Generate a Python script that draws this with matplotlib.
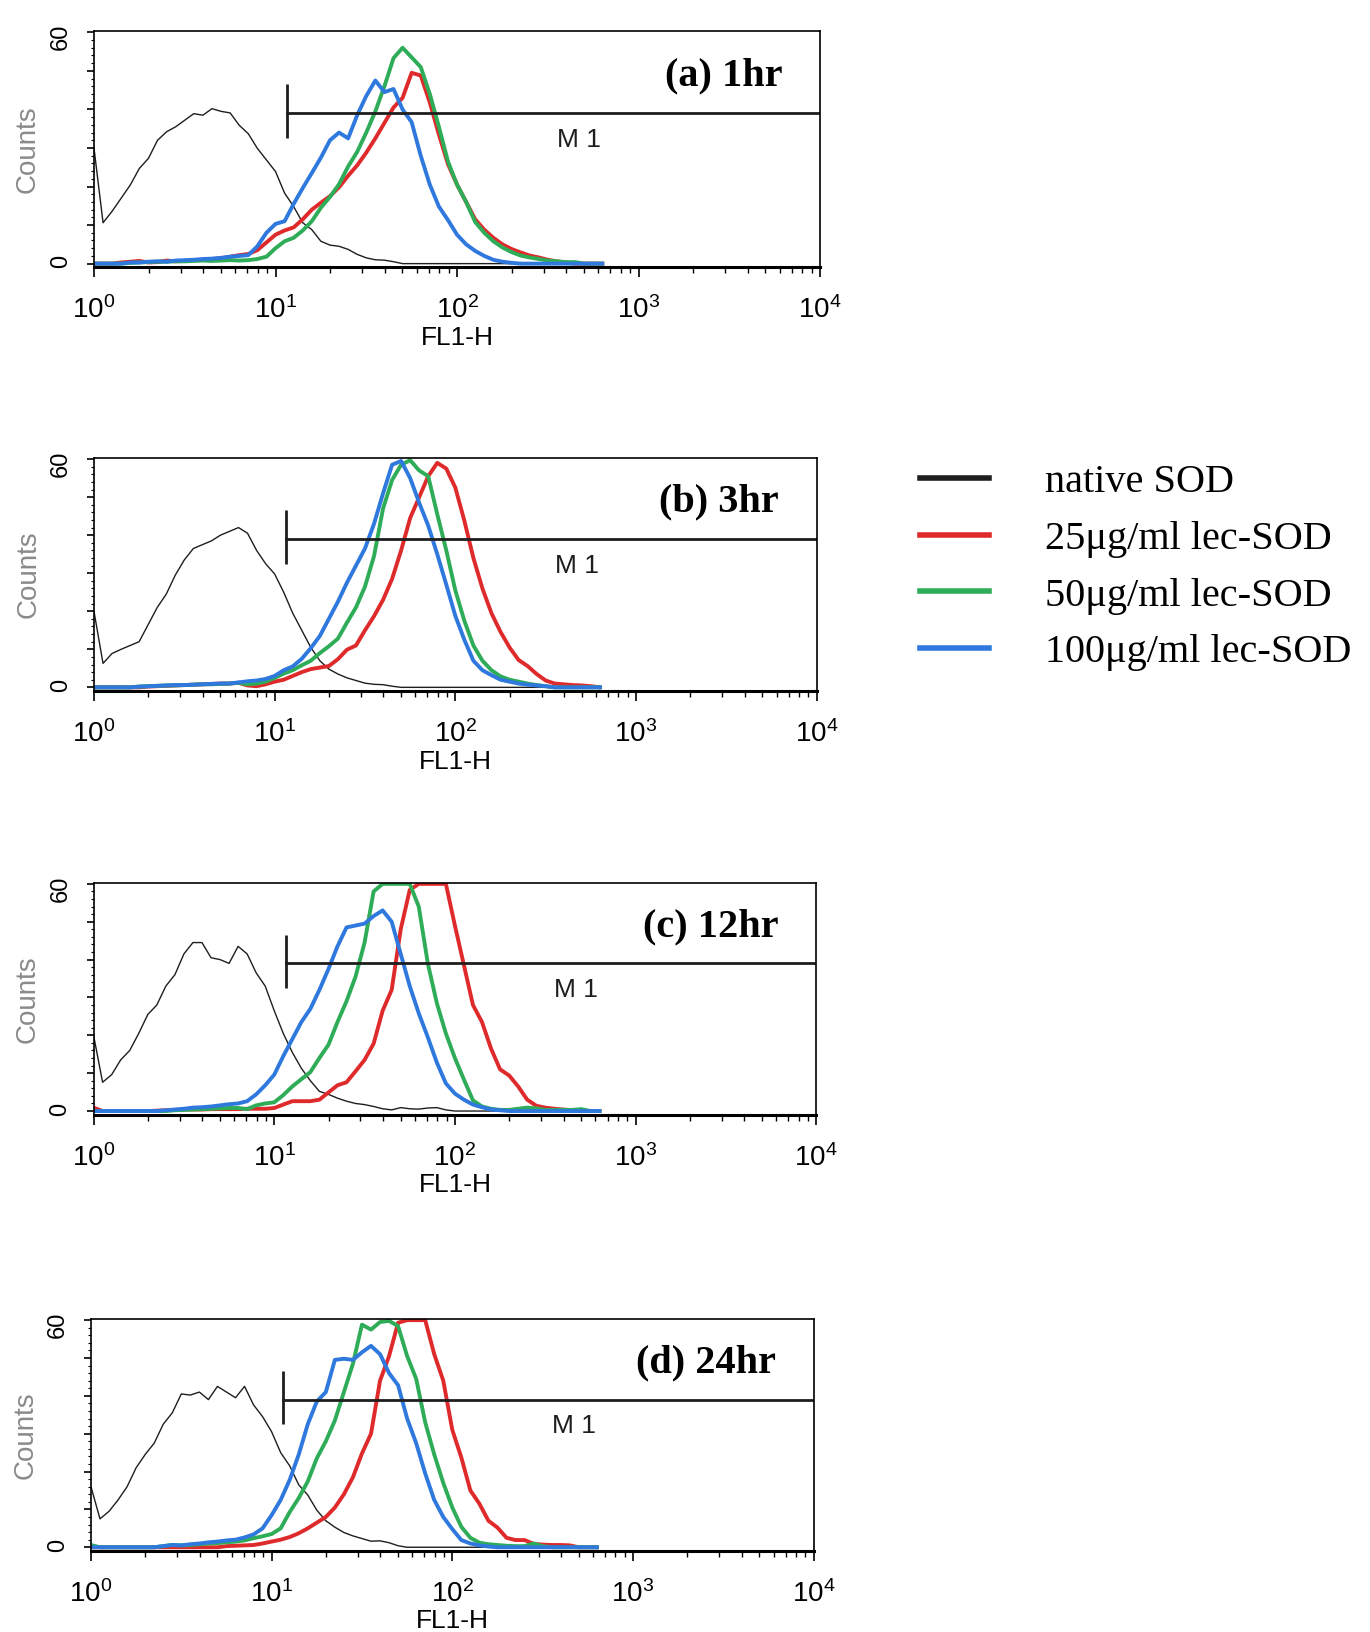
import numpy as np
import matplotlib
matplotlib.use('Agg')
import matplotlib.pyplot as plt
from matplotlib.lines import Line2D
from matplotlib.ticker import LogLocator, MultipleLocator, NullFormatter, FuncFormatter

SANS = ['Liberation Sans', 'DejaVu Sans']
SERIF = ['Liberation Serif', 'DejaVu Serif']
plt.rcParams['font.family'] = SANS
plt.rcParams['mathtext.default'] = 'regular'

# FL1-H channels, log10 position every 0.05 decade (10^0 .. 10^2.8)
fl1_log = np.round(np.arange(57) * 0.05, 2)
fl1 = 10 ** fl1_log

# ---- (a) 1hr ----
native_a = [30, 10.6, 13.6, 17, 20.4, 24.7, 27.3, 32, 34.2, 35.5,
            37.2, 38.9, 38.5, 40.2, 39.5, 39.1, 35.9, 33.7, 29.9, 26.9,
            23.9, 18.3, 14.8, 10.6, 8.8, 5.8, 4.8, 4.5, 3.7, 2.4,
            1.5, 1.0, 0.9, 0.5, 0, 0, 0, 0, 0, 0,
            0, 0, 0, 0, 0, 0, 0, 0, 0, 0,
            0, 0, 0, 0, 0, 0, 0]
lec25_a = [0, 0, 0, 0.3, 0.5, 0.7, 0.3, 0.4, 0.8, 0.6,
           0.7, 0.9, 1.0, 1.2, 1.4, 1.8, 2.2, 2.5, 3.5, 5.5,
           7.5, 8.6, 9.4, 11.5, 14, 15.8, 17.5, 19.8, 22.8, 25.5,
           28.8, 32.5, 36.5, 40.5, 43, 49.5, 48.8, 41.8, 33.5, 25.8,
           20.5, 16, 11.5, 8.8, 6.7, 5.0, 3.8, 2.9, 2.1, 1.6,
           1.0, 0.6, 0.3, 0, 0, 0, 0]
lec50_a = [0, 0, 0, 0, 0.2, 0.3, 0.4, 0.5, 0.5, 0.6,
           0.6, 0.7, 0.8, 0.7, 0.8, 0.9, 0.8, 0.9, 1.2, 1.8,
           4, 5.8, 6.7, 8.6, 11, 14.5, 17.3, 20.6, 25.2, 29,
           34, 39.5, 46, 53.3, 56, 53.5, 51, 44, 35.5, 26.5,
           20.5, 16, 10.8, 8, 5.8, 4.2, 3.0, 2.1, 1.6, 1.2,
           0.8, 0.6, 0.4, 0.4, 0, 0, 0]
lec100_a = [0, 0, 0, 0, 0.3, 0.3, 0.5, 0.6, 0.5, 0.8,
            0.9, 1.0, 1.2, 1.3, 1.5, 1.8, 2.0, 2.2, 4.5, 8.0,
            10.3, 11, 15.5, 19.6, 23.5, 27.5, 32, 34, 32.5, 38.5,
            43.5, 47.5, 44.5, 45.3, 40, 36.7, 28, 20.5, 14.8, 11.3,
            7.5, 5.0, 3.3, 2.0, 1.0, 0.5, 0.2, 0, 0, 0,
            0, 0, 0, 0, 0, 0, 0]

# ---- (b) 3hr ----
native_b = [20, 6.3, 8.9, 10, 11, 12, 16.5, 21, 24.5, 29.5,
            33.5, 36.5, 37.5, 38.5, 40, 41, 42, 40.5, 36, 32.5,
            29.8, 25, 19.5, 15, 10.5, 7, 4.8, 3.5, 2.5, 1.8,
            1.1, 0.8, 0.7, 0.3, 0, 0, 0, 0, 0, 0,
            0, 0, 0, 0, 0, 0, 0, 0, 0, 0,
            0, 0, 0, 0, 0, 0, 0]
lec25_b = [0, 0, 0, 0, 0, 0, 0.2, 0.3, 0.4, 0.5,
           0.6, 0.7, 0.8, 0.9, 1.0, 1.0, 1.2, 0.5, 0.3, 0.8,
           1.5, 2.0, 3.0, 4.0, 4.8, 5.2, 5.6, 7.4, 9.9, 11,
           15, 18.7, 23, 28.5, 36, 44.5, 50, 55.5, 59, 57.5,
           52.5, 43.8, 34, 26, 19.5, 14.6, 10.5, 7.2, 5.6, 3.5,
           1.8, 1.0, 0.8, 0.6, 0.5, 0.3, 0]
lec50_b = [0, 0, 0, 0, 0, 0.2, 0.3, 0.4, 0.5, 0.5,
           0.6, 0.7, 0.8, 0.8, 0.9, 1.0, 1.2, 0.8, 1.0, 1.5,
           2.5, 3.6, 4.5, 5.8, 7.0, 9.0, 10.8, 12.8, 17, 21,
           26.5, 34.5, 47, 54.5, 58.5, 59.7, 57, 55.5, 45.5, 36,
           25.5, 17.5, 11, 7.0, 4.5, 2.9, 2.0, 1.5, 1.0, 0.6,
           0.3, 0, 0, 0, 0, 0, 0]
lec100_b = [0, 0, 0, 0, 0, 0.2, 0.3, 0.4, 0.5, 0.6,
            0.6, 0.7, 0.8, 0.9, 1.0, 1.0, 1.3, 1.6, 1.8, 2.2,
            3.0, 4.5, 5.5, 7.5, 10.3, 13.5, 18, 22.5, 27.5, 32,
            36.5, 43, 51, 58.5, 59.5, 55, 48.5, 42.5, 35, 27,
            18.8, 12.5, 7, 4.5, 3.2, 2.0, 1.5, 1.0, 0.7, 0.5,
            0.3, 0, 0, 0, 0, 0, 0]

# ---- (c) 12hr ----
native_c = [20, 7.6, 9.6, 13.5, 16, 20.5, 25.5, 28, 33, 36,
            41.5, 44.5, 44.5, 40.5, 40, 39, 43.5, 41.5, 36.5, 33,
            26.5, 20.5, 15.5, 11.3, 8.0, 5.2, 4.4, 3.4, 2.6, 2.0,
            1.7, 1.2, 0.6, 0.3, 0.9, 0.6, 0.5, 0.8, 0.9, 0.3,
            0, 0, 0, 0, 0, 0, 0, 0, 0, 0,
            0, 0, 0, 0, 0, 0, 0]
lec25_c = [0.9, 0, 0, 0, 0, 0, 0, 0.1, 0.2, 0.3,
           0.4, 0.4, 0.4, 0.5, 0.5, 0.5, 0.5, 0.6, 0.6, 0.6,
           0.8, 1.7, 2.6, 2.6, 2.6, 3.0, 4.9, 6.8, 7.6, 10.5,
           13.5, 17.8, 26.5, 32, 48, 58.4, 60, 60, 60, 60,
           49, 38.5, 28, 23.5, 16.5, 11, 9.4, 6.5, 3.0, 1.4,
           0.9, 0.6, 0.4, 0.2, 0, 0, 0]
lec50_c = [0, 0, 0, 0, 0, 0, 0, 0, 0, 0.2,
           0.3, 0.4, 0.5, 0.6, 0.7, 0.8, 0.8, 0.5, 1.5, 2.0,
           2.3, 4.2, 6.5, 8.4, 10.3, 14, 17.5, 23.5, 29, 35.5,
           44.5, 58, 60, 60, 60, 60, 54, 39, 28.5, 20.5,
           14, 8.3, 2.8, 1.2, 0.6, 0.3, 0.3, 0.6, 0.9, 0.7,
           0.3, 0.3, 0.3, 0.3, 0.5, 0, 0]
lec100_c = [0, 0, 0, 0, 0, 0, 0, 0, 0.2, 0.4,
            0.6, 0.9, 1.0, 1.2, 1.5, 1.8, 2.0, 2.6, 4.4, 6.8,
            9.6, 14.5, 19, 23.5, 27, 32, 37.5, 43.5, 48.5, 49,
            49.5, 51.5, 53, 50, 41.5, 33, 25.8, 19.5, 12.8, 7.3,
            4.6, 3.0, 1.7, 1.0, 0.4, 0.2, 0, 0, 0, 0,
            0, 0, 0, 0, 0, 0, 0]

# ---- (d) 24hr ----
native_d = [16, 7.5, 9.5, 12.5, 16, 21, 24.5, 27.5, 32.5, 35.5,
            40.5, 40.2, 41, 39, 42.5, 41, 39.5, 42.5, 37.6, 34.5,
            30.5, 25, 21.5, 16.5, 13.8, 9.8, 7, 5.3, 3.9, 3.0,
            2.3, 1.6, 1.7, 1.2, 0.4, 0, 0, 0, 0, 0,
            0, 0, 0, 0, 0, 0, 0, 0, 0, 0,
            0, 0, 0, 0, 0, 0, 0]
lec25_d = [0, 0, 0, 0, 0, 0, 0, 0, 0, 0,
           0, 0, 0, 0, 0, 0.3, 0.4, 0.5, 0.6, 1.0,
           1.5, 2.0, 2.7, 3.7, 5.0, 6.5, 8.0, 10.5, 14, 18.5,
           24.8, 30, 44, 50.5, 59.3, 60, 60, 60, 51, 44,
           31, 23.7, 15, 11.5, 7, 5.2, 2.5, 1.9, 1.9, 0.9,
           0.7, 0.6, 0.6, 0.5, 0, 0, 0]
lec50_d = [0.6, 0, 0, 0, 0, 0, 0, 0, 0.3, 0.6,
           0.5, 0.6, 0.8, 1.0, 1.1, 1.3, 1.5, 1.8, 2.4, 2.9,
           3.5, 5.0, 9.3, 13, 17.4, 23.5, 28, 33.5, 41, 48.5,
           58.8, 57.5, 59.5, 59.8, 58.4, 50.5, 44.5, 33, 24.5, 17,
           10.5, 5.4, 2.5, 1.2, 0.8, 0.6, 0.4, 0.3, 0.3, 1.0,
           0.3, 0, 0, 0, 0, 0, 0]
lec100_d = [0, 0, 0, 0, 0, 0, 0, 0, 0.3, 0.6,
            0.5, 0.8, 1.0, 1.3, 1.5, 1.8, 2.0, 2.6, 3.4, 5.0,
            8.5, 12.5, 17.8, 24.5, 32.5, 38.5, 41, 49.5, 49.8, 49.5,
            51.5, 53.2, 51, 46, 42.8, 34, 27.5, 19.5, 12.5, 8.0,
            4.8, 1.9, 1.0, 0.5, 0.2, 0, 0, 0, 0, 0,
            0, 0, 0, 0, 0, 0, 0]

panel_titles = ['(a) 1hr', '(b) 3hr', '(c) 12hr', '(d) 24hr']
series_names = ['native SOD', '25\u03bcg/ml lec-SOD', '50\u03bcg/ml lec-SOD', '100\u03bcg/ml lec-SOD']
series_colors = ['#1e1e1e', '#df2a2c', '#2eac58', '#2e78de']
series_widths = [1.0, 2.8, 2.8, 2.8]

panel_data = [
    [native_a, lec25_a, lec50_a, lec100_a],
    [native_b, lec25_b, lec50_b, lec100_b],
    [native_c, lec25_c, lec50_c, lec100_c],
    [native_d, lec25_d, lec50_d, lec100_d],
]

# M1 marker gate
gate_start = 11.6
gate_level = 39
gate_bar = (32.5, 46.5)

# axes boxes [left, bottom, width, height] in figure fraction
boxes = [[0.0686, 0.8361, 0.530, 0.1448],
         [0.0686, 0.5765, 0.5275, 0.1429],
         [0.0683, 0.3169, 0.5275, 0.1422],
         [0.0664, 0.0496, 0.5275, 0.1422]]

fig = plt.figure(figsize=(13.7, 16.32), dpi=100)

for box, title, curves in zip(boxes, panel_titles, panel_data):
    ax = fig.add_axes(box)
    for counts, col, lw in zip(curves, series_colors, series_widths):
        ax.plot(fl1, counts, color=col, lw=lw)
    ax.set_xscale('log')
    ax.set_xlim(1, 1e4)
    ax.set_ylim(-1, 60.3)

    # gate
    ax.plot([gate_start, 1e4], [gate_level, gate_level], color='#1e1e1e', lw=2)
    ax.vlines(gate_start, gate_bar[0], gate_bar[1], color='#1e1e1e', lw=2)
    ax.text(470, 32, 'M 1', ha='center', va='center', fontsize=19, color='#1e1e1e')

    ax.text(0.948, 0.81, title, transform=ax.transAxes, ha='right', va='center',
            fontsize=29, fontweight='bold', family=SERIF)

    for s in ax.spines.values():
        s.set_linewidth(1.2)
    ax.spines['bottom'].set_linewidth(2.2)

    ax.xaxis.set_major_locator(LogLocator(base=10, numticks=10))
    ax.xaxis.set_minor_locator(LogLocator(base=10, subs=range(2, 10), numticks=10))
    ax.xaxis.set_major_formatter(FuncFormatter(lambda v, p: r'$\mathregular{10^{%d}}$' % round(np.log10(v))))
    ax.xaxis.set_minor_formatter(NullFormatter())
    ax.tick_params(axis='x', which='major', direction='out', length=7, width=1.2, pad=14, labelsize=20)
    ax.tick_params(axis='x', which='minor', direction='out', length=4, width=1.0)

    ax.yaxis.set_major_locator(MultipleLocator(10))
    ax.yaxis.set_minor_locator(MultipleLocator(2))
    ax.yaxis.set_major_formatter(FuncFormatter(lambda v, p: '%d' % v if v in (0, 60) else ''))
    ax.tick_params(axis='y', which='major', direction='out', length=5, width=1.2, pad=11,
                   labelsize=17, labelrotation=90)
    ax.tick_params(axis='y', which='minor', direction='out', length=2.5, width=0.8)

    ax.set_xlabel('FL1-H', fontsize=19, labelpad=1)
    ax.set_ylabel('Counts', fontsize=20, color='#8a8a8a')
    ax.yaxis.set_label_coords(-0.073, 0.5)

handles = [Line2D([], [], color=c, lw=4) for c in series_colors]
fig.legend(handles, series_names, loc='upper left', bbox_to_anchor=(0.6715, 0.7160),
           frameon=False, prop=dict(family=SERIF, size=29), handlelength=1.71,
           handletextpad=1.39, labelspacing=0.49, borderpad=0, borderaxespad=0)

fig.savefig('out.png', dpi=100)
